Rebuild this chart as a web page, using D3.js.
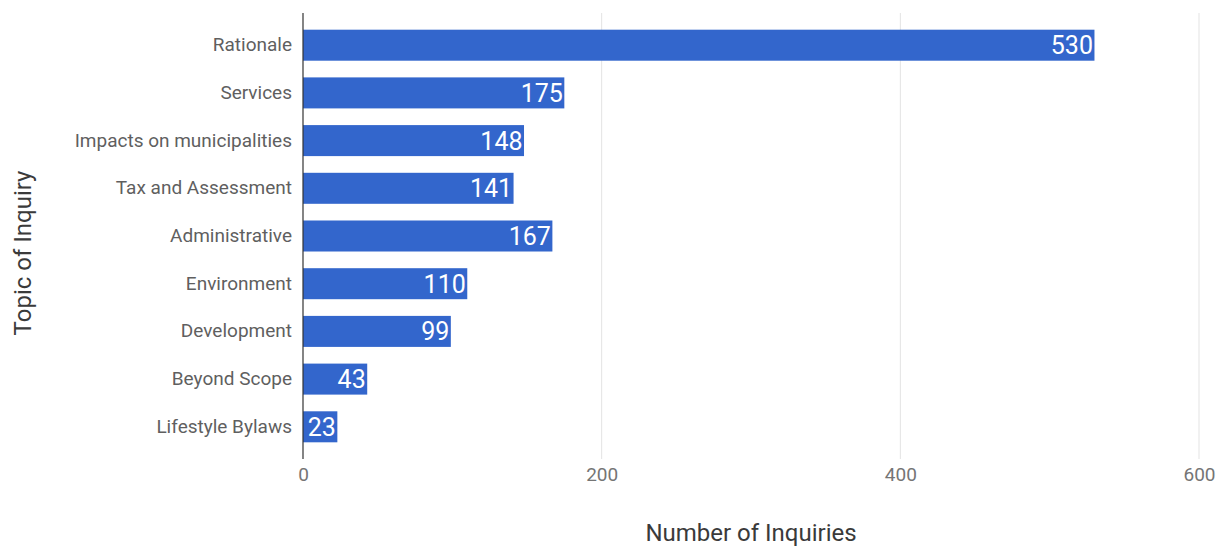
<!DOCTYPE html>
<html>
<head>
<meta charset="utf-8">
<script src="https://cdn.jsdelivr.net/npm/d3@7"></script>
<style>
  html, body { margin: 0; padding: 0; background: #fff; }
  svg { display: block; font-family: Roboto, "Noto Sans", sans-serif; }
</style>
</head>
<body>
<svg id="chart" width="1217" height="546"></svg>
<script>
// Inquiry topics and their counts
const topics = [
  "Rationale",
  "Services",
  "Impacts on municipalities",
  "Tax and Assessment",
  "Administrative",
  "Environment",
  "Development",
  "Beyond Scope",
  "Lifestyle Bylaws"
];
const counts = [530, 175, 148, 141, 167, 110, 99, 43, 23];
const xTicks = [0, 200, 400, 600];

const svg = d3.select("#chart");
const plot = { left: 303, right: 1199, top: 13, bottom: 459 };

const x = d3.scaleLinear().domain([0, 600]).range([plot.left, plot.right]);
const y = d3.scaleBand().domain(topics).range([plot.top, plot.bottom]).padding(0.35);

// vertical gridlines
svg.append("g")
  .selectAll("line")
  .data(xTicks.filter(t => t > 0))
  .join("line")
  .attr("x1", d => x(d)).attr("x2", d => x(d))
  .attr("y1", plot.top).attr("y2", plot.bottom)
  .attr("stroke", "#e3e3e3").attr("stroke-width", 1);

// bars
const data = topics.map((t, i) => ({ topic: t, value: counts[i] }));
svg.append("g")
  .selectAll("rect")
  .data(data)
  .join("rect")
  .attr("x", x(0))
  .attr("y", d => y(d.topic))
  .attr("width", d => x(d.value) - x(0))
  .attr("height", y.bandwidth())
  .attr("fill", "#3366cc");

// value labels inside bar ends
svg.append("g")
  .selectAll("text")
  .data(data)
  .join("text")
  .attr("x", d => x(d.value) - 1.5)
  .attr("y", d => y(d.topic) + y.bandwidth() / 2)
  .attr("dy", "0.36em")
  .attr("text-anchor", "end")
  .attr("fill", "#ffffff")
  .attr("font-size", 25)
  .text(d => d.value);

// category axis
const yAxis = svg.append("g")
  .attr("transform", `translate(${plot.left},0)`)
  .call(d3.axisLeft(y).tickSize(0).tickPadding(11));
yAxis.select(".domain").remove();
yAxis.selectAll("text")
  .attr("font-size", 19)
  .attr("fill", "#5f5f5f")
  .attr("font-family", "Roboto, sans-serif");

// baseline at zero
svg.append("line")
  .attr("x1", x(0)).attr("x2", x(0))
  .attr("y1", plot.top).attr("y2", plot.bottom)
  .attr("stroke", "#333333").attr("stroke-width", 1.2);

// value axis tick labels
const xAxis = svg.append("g")
  .attr("transform", `translate(0,${plot.bottom})`)
  .call(d3.axisBottom(x).tickValues(xTicks).tickSize(0).tickPadding(9));
xAxis.select(".domain").remove();
xAxis.selectAll("text")
  .attr("font-size", 19)
  .attr("fill", "#757575")
  .attr("font-family", "Roboto, sans-serif");

// axis titles
svg.append("text")
  .attr("x", 751).attr("y", 541)
  .attr("text-anchor", "middle")
  .attr("font-size", 24)
  .attr("fill", "#3a3a3a")
  .text("Number of Inquiries");

svg.append("text")
  .attr("transform", "translate(31,253) rotate(-90)")
  .attr("text-anchor", "middle")
  .attr("font-size", 24)
  .attr("fill", "#3a3a3a")
  .text("Topic of Inquiry");
</script>
</body>
</html>
